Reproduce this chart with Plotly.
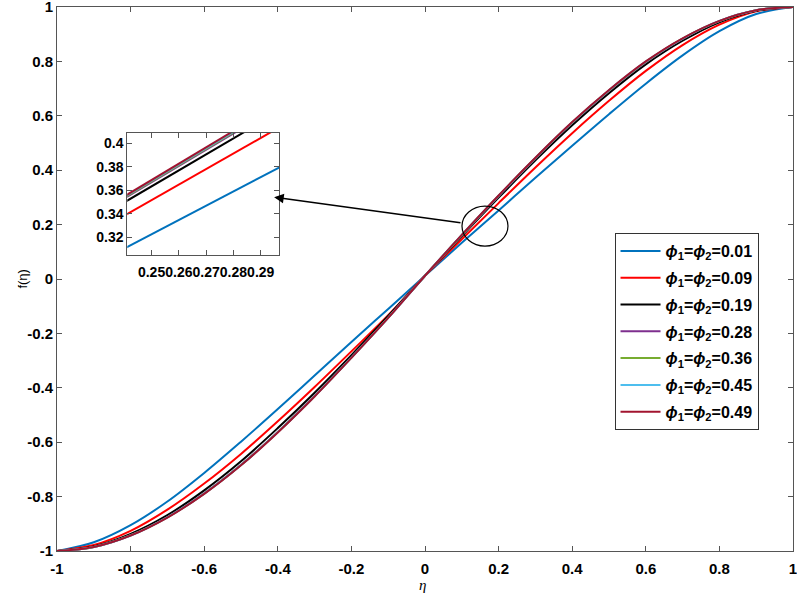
import plotly.graph_objects as go

# eta grid and curves
eta = [-1.0, -0.9, -0.8, -0.7, -0.6, -0.5, -0.4, -0.3, -0.2, -0.1, 0.0,
       0.1, 0.2, 0.3, 0.4, 0.5, 0.6, 0.7, 0.8, 0.9, 1.0]

f_001 = [-1, -0.968, -0.905, -0.818, -0.713, -0.598, -0.478, -0.355, -0.232, -0.110, 0.012,
         0.133, 0.252, 0.372, 0.490, 0.606, 0.718, 0.822, 0.911, 0.974, 1]
f_009 = [-1, -0.978, -0.926, -0.848, -0.752, -0.643, -0.523, -0.397, -0.266, -0.133, 0.012,
         0.146, 0.279, 0.410, 0.536, 0.655, 0.765, 0.860, 0.935, 0.984, 1]
f_019 = [-1, -0.983, -0.937, -0.868, -0.777, -0.670, -0.548, -0.418, -0.280, -0.136, 0.012,
         0.157, 0.299, 0.436, 0.565, 0.683, 0.789, 0.876, 0.944, 0.986, 1]
f_028 = [-1, -0.985, -0.942, -0.875, -0.788, -0.683, -0.562, -0.430, -0.288, -0.142, 0.012,
         0.161, 0.305, 0.444, 0.574, 0.692, 0.797, 0.883, 0.948, 0.988, 1]
f_036 = [-1, -0.985, -0.942, -0.876, -0.789, -0.684, -0.563, -0.431, -0.289, -0.142, 0.012,
         0.161, 0.306, 0.445, 0.575, 0.693, 0.798, 0.884, 0.948, 0.988, 1]
f_045 = [-1, -0.985, -0.943, -0.876, -0.789, -0.684, -0.563, -0.431, -0.289, -0.143, 0.012,
         0.162, 0.306, 0.445, 0.576, 0.694, 0.799, 0.884, 0.949, 0.988, 1]
f_049 = [-1, -0.985, -0.943, -0.877, -0.790, -0.685, -0.564, -0.432, -0.290, -0.143, 0.012,
         0.162, 0.307, 0.446, 0.577, 0.695, 0.800, 0.885, 0.949, 0.988, 1]

# zoomed inset (straight segments)
eta_zoom = [0.24, 0.30]
z_001 = [0.3106, 0.3833]
z_009 = [0.3385, 0.4177]
z_019 = [0.3498, 0.4313]
z_028 = [0.3532, 0.4359]
z_036 = [0.3538, 0.4368]
z_045 = [0.3543, 0.4375]
z_049 = [0.3549, 0.4382]

phi_vals = ["0.01", "0.09", "0.19", "0.28", "0.36", "0.45", "0.49"]
colors = ["#0072BD", "#FF0000", "#000000", "#7E2F8E", "#77AC30", "#4DBEEE", "#A2142F"]
main = [f_001, f_009, f_019, f_028, f_036, f_045, f_049]
zoom = [z_001, z_009, z_019, z_028, z_036, z_045, z_049]

main_ticks = [-1, -0.8, -0.6, -0.4, -0.2, 0, 0.2, 0.4, 0.6, 0.8, 1]
main_labels = ["-1", "-0.8", "-0.6", "-0.4", "-0.2", "0", "0.2", "0.4", "0.6", "0.8", "1"]
inset_xt = [0.25, 0.26, 0.27, 0.28, 0.29]
inset_yt = [0.32, 0.34, 0.36, 0.38, 0.4]

fig = go.Figure()
for i, (v, c, y) in enumerate(zip(phi_vals, colors, main)):
    fig.add_trace(go.Scatter(
        x=eta, y=y, mode="lines", line=dict(color=c, width=2, shape="spline"),
        name="<i>ϕ</i><sub>1</sub>=<i>ϕ</i><sub>2</sub>=" + v, legendgroup="g%d" % i,
    ))
for c, y in zip(colors, zoom):
    fig.add_trace(go.Scatter(
        x=eta_zoom, y=y, mode="lines", line=dict(color=c, width=2),
        xaxis="x2", yaxis="y2", showlegend=False, hoverinfo="skip",
    ))

ax_color = "#555555"
common = dict(showline=True, linecolor=ax_color, linewidth=1, mirror="ticks",
              ticks="inside", ticklen=5, tickcolor=ax_color, showgrid=False,
              zeroline=False, tickangle=0, automargin=False,
              ticklabeloverflow="allow")
main_font = dict(family="Liberation Sans, Arial", size=15, color="#000000", weight="bold")
inset_font = dict(family="Liberation Sans, Arial", size=14, color="#000000", weight="bold")

fig.update_layout(
    width=797, height=600,
    margin=dict(l=57, r=4, t=7, b=49),
    paper_bgcolor="white", plot_bgcolor="white",
    font=dict(family="Liberation Sans, Arial", color="#000000"),
    xaxis=dict(range=[-1, 1], tickvals=main_ticks, ticktext=main_labels,
               ticklabelstandoff=4, tickfont=main_font, **common),
    yaxis=dict(range=[-1, 1], tickvals=main_ticks, ticktext=main_labels,
               tickfont=main_font, **common),
    xaxis2=dict(domain=[0.0955, 0.302], anchor="y2", range=[0.2411, 0.2968],
                tickvals=inset_xt, ticklabelstandoff=4, tickfont=inset_font, **common),
    yaxis2=dict(domain=[0.544, 0.769], anchor="x2", range=[0.305, 0.409],
                tickvals=inset_yt, tickfont=inset_font, **common),
    legend=dict(x=0.7575, y=0.5846, xanchor="left", yanchor="top",
                bordercolor="#333333", borderwidth=1, bgcolor="white",
                font=dict(family="Liberation Sans, Arial", size=16, color="#000000",
                          weight="bold"),
                itemwidth=40, tracegroupgap=3),
    showlegend=True,
)

# highlight ellipse and arrow pointing to inset
fig.add_shape(type="circle", xref="x", yref="y", x0=0.1005, x1=0.2255, y0=0.121, y1=0.268,
              line=dict(color="#000000", width=1.2))
fig.add_annotation(x=-0.41, y=0.301, ax=0.1005, ay=0.206, xref="x", yref="y",
                   axref="x", ayref="y", text="", showarrow=True, arrowhead=2,
                   arrowsize=1.2, arrowwidth=1.6, arrowcolor="#000000")

# axis titles
fig.add_annotation(x=-0.061, y=0.5, xref="paper", yref="paper", text="f(η)",
                   textangle=-90, showarrow=False,
                   font=dict(family="Liberation Sans, Arial", size=13))
fig.add_annotation(x=0.497, y=-0.0625, xref="paper", yref="paper", text="<i>η</i>",
                   yanchor="middle", showarrow=False,
                   font=dict(family="Liberation Serif, Times New Roman", size=15))

# page body margin would otherwise shift the figure by 8px
fig.write_html("out.html", config={"displayModeBar": False},
               post_script="document.body.style.margin='0';")
